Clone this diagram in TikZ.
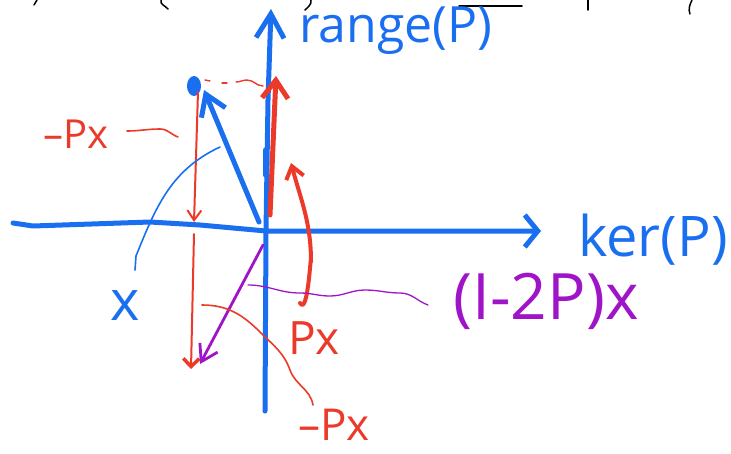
\documentclass[tikz,border=0pt]{standalone}
\usepackage{fontspec}
\setmainfont{Open Sans}
\usetikzlibrary{arrows.meta}
\definecolor{pblue}{HTML}{1A6FF0}
\definecolor{pred}{HTML}{EC3A2A}
\definecolor{ppurple}{HTML}{A014C8}
\begin{document}
\begin{tikzpicture}[x=1pt,y=-1pt,line cap=round,line join=round,
  axis/.style={draw=pblue,line width=5pt},
  bluevec/.style={draw=pblue,line width=5pt},
  redthick/.style={draw=pred,line width=5pt},
  redthin/.style={draw=pred,line width=2pt},
  purplevec/.style={draw=ppurple,line width=2.8pt},
  leader/.style={line width=1.6pt},
  lbl/.style={inner sep=0pt,outer sep=0pt},
  frag/.style={draw=black,line width=1.5pt}]
\useasboundingbox (0,0) rectangle (731,453);
% fragments of text cut off at the top
\draw[frag] (37,0) -- (34,5);
\draw[frag] (161,0) to[out=-110,in=130] (168,9);
\draw[frag] (311,0) to[out=-80,in=45] (305,10);
\draw[frag] (459,6) -- (522,6);
\draw[frag] (588,0) -- (588,10);
\draw[frag] (692,0) to[out=-115,in=110] (690,14);
% coordinates
\coordinate (O) at (266,231);
\coordinate (hL) at (13,223);
\coordinate (hR) at (541,231);
\coordinate (vB) at (265,411);
\coordinate (vT) at (271,9);
% axes
\draw[axis,-{Straight Barb[length=13pt,width=32pt]}] (hL) -- (33,226) -- (150,222) -- (200,225) -- (O) -- (hR);
\draw[axis,-{Straight Barb[length=24pt,width=28pt]}] (vB) -- (O) -- (268,100) -- (vT);
\draw[pblue,line width=6pt] (266,150) -- (266,175);
% labels of axes
\node[lbl,text=pblue,font=\fontsize{50}{50}\selectfont] (rng) at (396,31) {range(P)};
\node[lbl,text=pblue,font=\fontsize{56}{56}\selectfont] (ker) at (653,240) {ker(P)};
% vector x
\coordinate (x0) at (259,222);
\coordinate (xT) at (204,90);
\draw[bluevec,-{Straight Barb[length=20pt,width=26pt]}] (x0) -- (xT);
\fill[pblue] (194,86) ellipse [x radius=7, y radius=10];
% Px (thick red)
\coordinate (px0) at (270,215);
\coordinate (pxT) at (276,76);
\draw[redthick,-{Straight Barb[length=18pt,width=26pt]}] (px0) -- (pxT);
% dashed projection line
\draw[redthin,line width=1.4pt] (205,80) -- (210,81);
\draw[redthin,line width=1.4pt] (222,83) -- (227,83);
\draw[redthin,line width=1.4pt] (236,82) to[out=0,in=180] (247,80) to[out=0,in=180] (263,86);
% -Px arrows (thin red)
\coordinate (m1a) at (198,92);
\coordinate (m1b) at (194,222);
\coordinate (m2a) at (194,234);
\coordinate (m2b) at (191,369);
\draw[redthin,-{Straight Barb[length=10pt,width=14pt]}] (m1a) -- (m1b);
\draw[redthin,-{Straight Barb[length=8pt,width=16pt,line width=3.5pt]}] (m2a) -- (m2b);
% (I-2P)x (purple)
\coordinate (q0) at (263,245);
\coordinate (qT) at (200,364);
\draw[purplevec,-{Straight Barb[length=16pt,width=20pt]}] (q0) -- (qT);
% labels
\node[lbl,text=pblue,font=\fontsize{56}{56}\selectfont] (xl) at (125,306) {x};
\node[lbl,text=pred,font=\fontsize{46}{46}\selectfont] (pxl) at (314,338) {Px};
\node[lbl,text=pred,font=\fontsize{44}{44}\selectfont] (mpxb) at (334,425) {–Px};
\node[lbl,text=pred,font=\fontsize{40}{40}\selectfont] (mpxt) at (76,134) {–Px};
\node[lbl,text=ppurple,font=\fontsize{64}{64}\selectfont] (ipx) at (546,301) {(I-2P)x};
% curved red arrow from Px label
\coordinate (cr0) at (300,303);
\coordinate (crT) at (291,163);
\draw[redthick,line width=4pt,-{Straight Barb[length=12pt,width=18pt]}] (cr0) to[out=-60,in=90] (311,262) to[out=90,in=-75] (crT);
% leaders
\draw[pblue,leader] (135,270) -- (136,256) to[out=68,in=205] (220,147);
\draw[pred,leader] (127,131) to[out=0,in=180] (160,129) to[out=0,in=160] (178,137);
\draw[pred,leader] (202,305) to[out=0,in=135] (260,332) to[out=-45,in=110] (290,370) to[out=-70,in=100] (313,405);
\draw[ppurple,leader,line width=1.3pt] (248,285) to[out=0,in=180] (300,293) to[out=0,in=180] (330,296) to[out=0,in=180] (365,290) to[out=0,in=180] (400,293) to[out=0,in=160] (428,305);
\end{tikzpicture}
\end{document}
